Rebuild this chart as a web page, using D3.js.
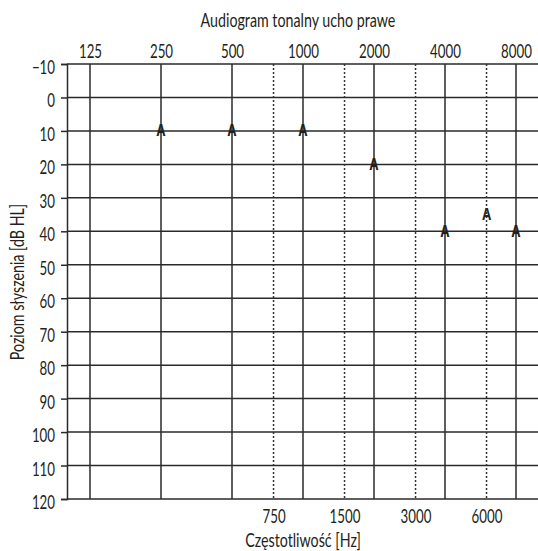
<!DOCTYPE html>
<html><head><meta charset="utf-8">
<script src="https://cdn.jsdelivr.net/npm/d3@7"></script>
<style>
html,body{margin:0;padding:0;background:#fff;}
text{font-family:Lato,"Open Sans",sans-serif;fill:#231f20;}
</style></head><body>
<svg id="c" width="538" height="551"></svg>
<script>
const mainFreqs = [125, 250, 500, 1000, 2000, 4000, 8000];
const midFreqs = [750, 1500, 3000, 6000];
const dbTicks = [-10, 0, 10, 20, 30, 40, 50, 60, 70, 80, 90, 100, 110, 120];
const rightFreqs = [250, 500, 1000, 2000, 4000, 6000, 8000];
const rightDb = [10, 10, 10, 20, 40, 35, 40];
const chartTitle = "Audiogram tonalny ucho prawe";
const xTitle = "Częstotliwość [Hz]";
const yTitle = "Poziom słyszenia [dB HL]";

(function () {
const svg = d3.select("#c");
const pLeft = 67, pRight = 545, pTop = 64, pBottom = 499;
const FONT = 'Lato,"Open Sans",sans-serif';
const FS = 19, K = 0.7, KT = 0.75;
const x = d3.scaleLog().base(2).domain([125, 8000]).range([90, 516]);
const y = d3.scaleLinear().domain([-10, 120]).range([pTop, pBottom]);

// horizontally condense a text by moving its position into a transform
function condense(sel, k) {
  sel.each(function () {
    const t = d3.select(this);
    const tx = +t.attr("x") || 0, ty = +t.attr("y") || 0;
    const prev = t.attr("transform") || "";
    t.attr("x", 0).attr("y", 0)
     .attr("transform", `${prev} translate(${tx},${ty}) scale(${k},1)`);
  });
}

// horizontal grid
svg.append("g").selectAll("line").data(dbTicks).join("line")
  .attr("x1", pLeft).attr("x2", pRight)
  .attr("y1", d => y(d)).attr("y2", d => y(d))
  .attr("stroke", "#2a2a2a").attr("stroke-width", 1.5);

// vertical main lines
svg.append("g").selectAll("line").data(mainFreqs).join("line")
  .attr("x1", d => x(d)).attr("x2", d => x(d))
  .attr("y1", pTop).attr("y2", pBottom)
  .attr("stroke", "#2a2a2a").attr("stroke-width", 1.5);

// dotted lines
svg.append("g").selectAll("line").data(midFreqs).join("line")
  .attr("x1", d => x(d)).attr("x2", d => x(d))
  .attr("y1", pTop).attr("y2", pBottom)
  .attr("stroke", "#333").attr("stroke-width", 1.5)
  .attr("stroke-dasharray", "2,2");

// left axis
const ya = d3.axisLeft(y).tickValues(dbTicks).tickSize(6).tickPadding(6)
  .tickFormat(d => d < 0 ? "\u2212" + Math.abs(d) : d);
const yg = svg.append("g").attr("transform", `translate(${pLeft},0)`).call(ya);
yg.select(".domain").attr("stroke", "#2a2a2a").attr("stroke-width", 1.5);
yg.selectAll(".tick line").attr("stroke", "#2a2a2a").attr("stroke-width", 1.5);
yg.selectAll("text").style("font-size", FS + "px").attr("fill", "#231f20").style("font-family", FONT)
  .attr("dy", "0.5em").call(condense, K);

// top axis labels
const xa = d3.axisTop(x).tickValues(mainFreqs).tickSize(0).tickPadding(6).tickFormat(d => d);
const xg = svg.append("g").attr("transform", `translate(0,${pTop})`).call(xa);
xg.select(".domain").remove();
xg.selectAll("text").style("font-size", FS + "px").attr("fill", "#231f20").style("font-family", FONT)
  .call(condense, K);

// bottom axis labels
const xb = d3.axisBottom(x).tickValues(midFreqs).tickSize(0).tickPadding(10).tickFormat(d => d);
const xbg = svg.append("g").attr("transform", `translate(0,${pBottom})`).call(xb);
xbg.select(".domain").remove();
xbg.selectAll("text").style("font-size", FS + "px").attr("fill", "#231f20").style("font-family", FONT)
  .call(condense, K);

// titles
svg.append("text").attr("x", 298).attr("y", 26.5).attr("text-anchor", "middle")
  .style("font-size", FS + "px").text(chartTitle).call(condense, KT);
svg.append("text").attr("x", 303).attr("y", 546.5).attr("text-anchor", "middle")
  .style("font-size", FS + "px").text(xTitle).call(condense, KT);
svg.append("text").attr("transform", "translate(24,282) rotate(-90)")
  .attr("text-anchor", "middle").style("font-size", FS + "px").text(yTitle).call(condense, KT);

// markers
svg.append("g").selectAll("text").data(rightFreqs.map((f, i) => [f, rightDb[i]])).join("text")
  .attr("x", d => x(d[0])).attr("y", d => y(d[1]) + 5.5)
  .attr("text-anchor", "middle").style("font-size", "16px").style("font-weight", "bold")
  .style("font-family", '"Open Sans",Lato,sans-serif')
  .attr("fill", "#1a1a1a").text("A").call(condense, 0.8);
})();
</script>
</body></html>
